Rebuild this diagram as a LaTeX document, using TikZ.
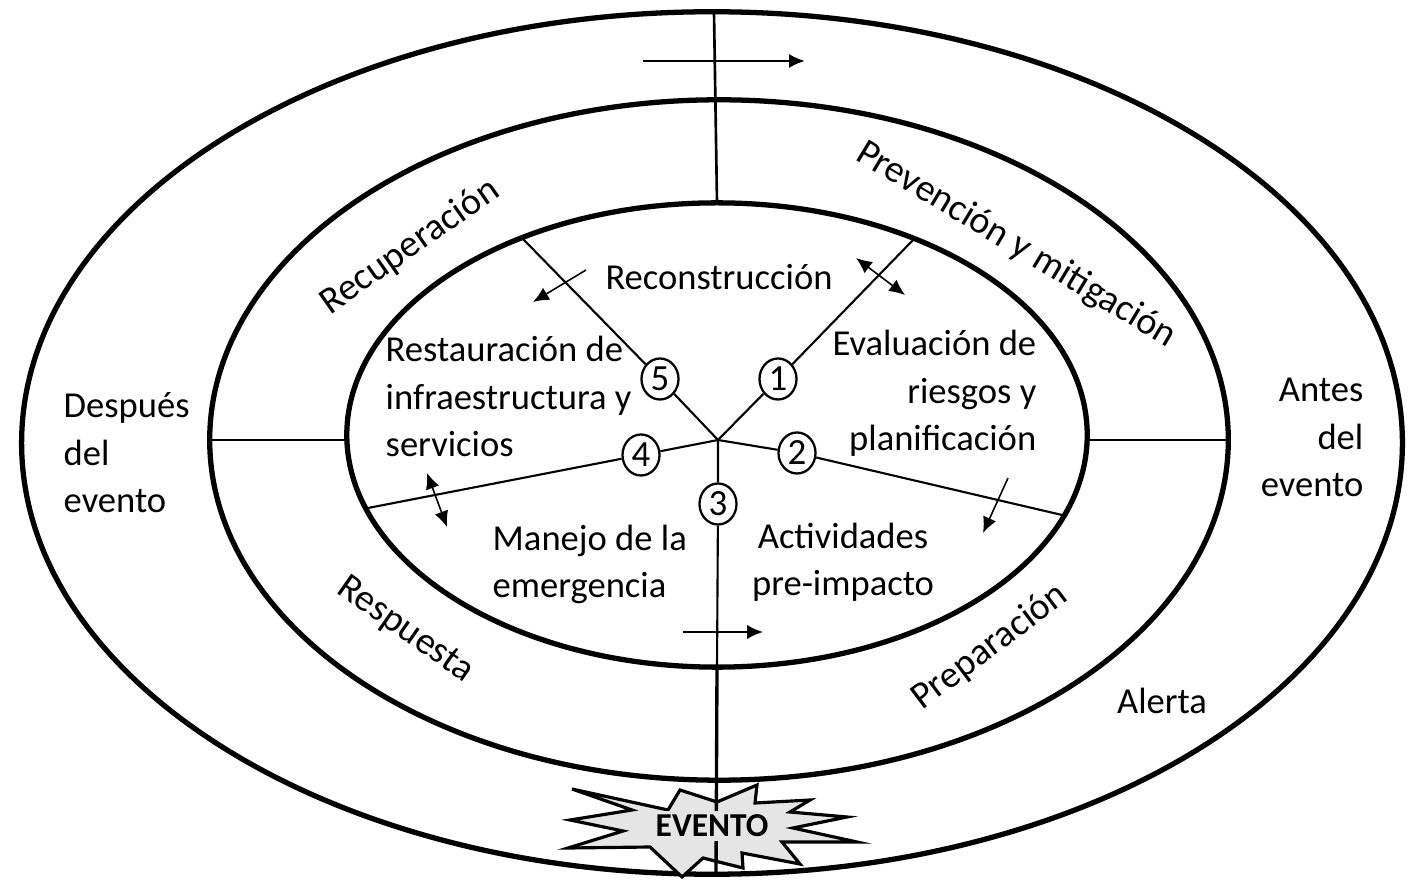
\documentclass[tikz,border=0pt]{standalone}
\usepackage{fontspec}
\setmainfont{Carlito}
\usepackage{tikz}
\usetikzlibrary{shapes,arrows,arrows.meta,positioning}

\begin{document}
\begin{tikzpicture}[x=0.01cm,y=-0.01cm,
	>={Latex[length=4.5pt,width=4pt]},
	ring/.style={line width=1.5pt},
	spoke/.style={line width=0.6pt},
	num/.style={draw, ellipse, fill=white, line width=0.65pt, minimum width=0.37cm, minimum height=0.41cm, inner sep=0pt, font=\fontsize{10.5}{11}\selectfont},
	lbl/.style={inner sep=0pt, font=\fontsize{10.4}{13.6}\selectfont},
	phase/.style={inner sep=0pt, font=\fontsize{10.8}{12}\selectfont},
	arr/.style={line width=0.45pt}]
	
	\useasboundingbox (0,0) rectangle (1413,880);
	
	% the three rings
	\draw[ring] (712,443) ellipse (6.90cm and 4.31cm);
	\draw[ring] (719,440) ellipse (5.09cm and 3.40cm);
	\draw[ring] (717,435) ellipse (3.70cm and 2.32cm);
	
	% dividing lines between the rings
	\coordinate (topin) at (717,203);
	\coordinate (topout) at (714,13);
	\coordinate (lin) at (347,440);
	\coordinate (lmid) at (210,440);
	\coordinate (rin) at (1087,440);
	\coordinate (rmid) at (1228,440);
	\coordinate (botin) at (717,667);
	\coordinate (botout) at (716,874);
	\draw[line width=0.75pt] (topin) -- (topout);
	\draw[line width=0.85pt] (lin) -- (lmid);
	\draw[line width=0.85pt] (rin) -- (rmid);
	
	% EVENTO
	\filldraw[fill=gray!20, line width=0.9pt] (572,789) -- (632,810) -- (570,820) -- (623,831) -- (568,848)
		-- (650,847) -- (682,877) -- (703,858) -- (743,868) -- (742,853) -- (800,864) -- (782,842)
		-- (857,842) -- (793,828) -- (847,817) -- (790,812) -- (810,800) -- (755,803) -- (757,785)
		-- (717,802) -- (680,790) -- (668,810) -- cycle;
	\draw[line width=0.95pt] (botin) -- (botout);
	\node[fill=gray!20, inner sep=1pt, font=\bfseries\fontsize{9.5}{10}\selectfont] (evento) at (712,826) {EVENTO};
	
	% spokes of the inner ring
	\coordinate (hub) at (718,440);
	\coordinate (e1) at (913,240);
	\coordinate (e2) at (1062,515);
	\coordinate (e4) at (368,508);
	\coordinate (e5) at (522,238);
	\node[num] (n1) at (778,379) {1};
	\node[num] (n2) at (797,453) {2};
	\node[num] (n3) at (718,504) {3};
	\node[num] (n4) at (641,455) {4};
	\node[num] (n5) at (660,379) {5};
	\draw[spoke] (hub) -- (n1) -- (e1);
	\draw[spoke] (hub) -- (n2) -- (e2);
	\draw[spoke] (hub) -- (n3) -- (botin);
	\draw[spoke] (hub) -- (n4) -- (e4);
	\draw[spoke] (hub) -- (n5) -- (e5);
	
	% small arrows
	\coordinate (t1) at (643,61);
	\coordinate (t2) at (805,61);
	\coordinate (r1) at (586,270);
	\coordinate (r2) at (533,302);
	\coordinate (p1) at (856,258);
	\coordinate (p2) at (905,295);
	\coordinate (m1) at (427,473);
	\coordinate (m2) at (447,527);
	\coordinate (s1) at (1008,478);
	\coordinate (s2) at (983,533);
	\coordinate (b1) at (683,632);
	\coordinate (b2) at (763,632);
	\draw[->, line width=0.75pt] (t1) -- (t2);
	\draw[arr,->] (r1) -- (r2);
	\draw[arr,<->] (p1) -- (p2);
	\draw[arr,<->] (m1) -- (m2);
	\draw[arr,->] (s1) -- (s2);
	\draw[arr,->] (b1) -- (b2);
	
	% texts (base = last line)
	\node[lbl, anchor=base] (recon) at (719,290) {Reconstrucción};
	\node[lbl, align=left, anchor=base west] (resta) at (385,457) {Restauración de\\infraestructura y\\servicios};
	\node[lbl, align=right, anchor=base east] (evalu) at (1037,451) {Evaluación de\\riesgos y\\planificación};
	\node[lbl, align=left, anchor=base west] (manejo) at (492,598) {Manejo de la\\emergencia};
	\node[lbl, align=center, anchor=base] (activ) at (843,596) {Actividades\\pre-impacto};
	\node[lbl, align=left, anchor=base west] (despues) at (63,513) {Después\\del\\evento};
	\node[lbl, align=right, anchor=base east] (antes) at (1364,497) {Antes\\del\\evento};
	\node[lbl, anchor=base] (alerta) at (1162,713) {Alerta};
	
	\node[phase, rotate=35] (recup) at (410,247) {Recuperación};
	\node[phase, rotate=-31] (preven) at (1016,245) {Prevención y mitigación};
	\node[phase, rotate=-35] (resp) at (405,630) {Respuesta};
	\node[phase, rotate=37] (prepa) at (990,647) {Preparación};
\end{tikzpicture}
\end{document}
